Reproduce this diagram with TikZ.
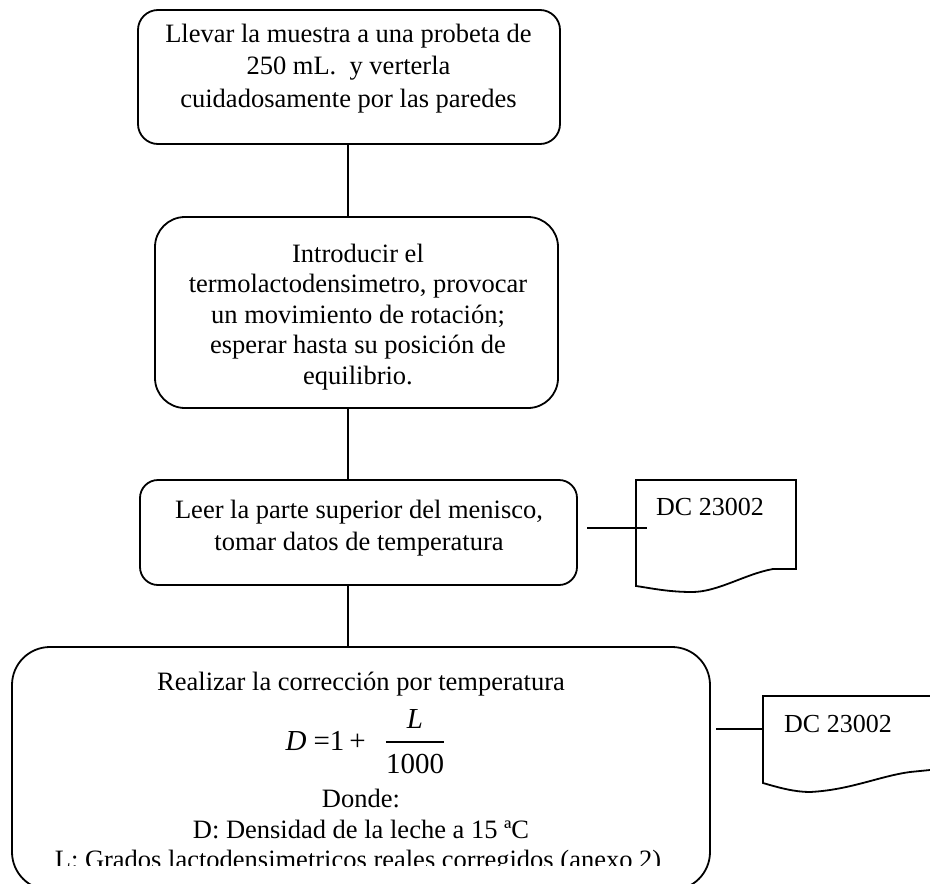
\documentclass[tikz,border=0pt]{standalone}
\usepackage{fontspec}
\setmainfont{Liberation Serif}
\tikzset{
  box/.style={draw, line width=1.8pt, rectangle, inner sep=0pt},
  ln/.style={line width=1.8pt},
  txt/.style={inner sep=0pt, anchor=base, font=\fontsize{26.5}{30.5}\selectfont},
  eq/.style={inner sep=0pt, font=\fontsize{29}{32}\selectfont},
}
\begin{document}
\begin{tikzpicture}[x=1pt, y=-1pt]
\useasboundingbox (0,0) rectangle (930,884);
\clip (0,0) rectangle (930,884);
% boxes
\node[box, rounded corners=20pt, minimum width=422pt, minimum height=134pt] (box1) at (349,77) {};
\node[box, rounded corners=30pt, minimum width=403pt, minimum height=191pt] (box2) at (356.5,312.5) {};
\node[box, rounded corners=18pt, minimum width=437pt, minimum height=105pt] (box3) at (358.5,532.5) {};
\node[box, rounded corners=38pt, minimum width=698pt, minimum height=243pt] (box4) at (361,768.5) {};
% vertical connectors
\draw[ln] (box1.south -| 348,0) -- (box2.north -| 348,0);
\draw[ln] (box2.south -| 348,0) -- (box3.north -| 348,0);
\draw[ln] (box3.south -| 348,0) -- (box4.north -| 348,0);
% texts
\node[txt, font=\fontsize{26.5}{32.5}\selectfont] (t1) at (348.5,42) {\parbox[t]{430pt}{\centering Llevar la muestra a una probeta de\\250 mL.\ \ y verterla\\cuidadosamente por las paredes}};
\node[txt] (t2) at (358,262) {\parbox[t]{430pt}{\centering Introducir el\\termolactodensimetro, provocar\\un movimiento de rotación;\\esperar hasta su posición de\\equilibrio.}};
\node[txt, font=\fontsize{26.5}{32}\selectfont] (t3) at (359,518) {\parbox[t]{430pt}{\centering Leer la parte superior del menisco,\\tomar datos de temperatura}};
\node[txt] (t4a) at (361,690) {Realizar la corrección por temperatura};
\node[eq, anchor=base east] (eqL) at (366,750) {\textit{D}\hspace{7pt}=1\hspace{5pt}+};
\node[eq, anchor=base] (eqN) at (415,728) {\textit{L}};
\node[eq, anchor=base] (eqD) at (415,773) {1000};
\draw[line width=1.6pt] (eqD.north west |- 0,742) -- (eqD.north east |- 0,742);
\node[txt] (t4b) at (361,807) {Donde:};
\node[txt] (t4c) at (361,838) {D: Densidad de la leche a 15 ªC};
\begin{scope}
\clip (0,0) rectangle (930,865);
\node[txt] (t4d) at (358,868) {L: Grados lactodensimetricos reales corregidos (anexo 2)};
\end{scope}
% documents
\draw[ln] (636,480) -- (796,480) -- (796,569) -- (773,569)
  .. controls (745,574) and (718,592) .. (692,592)
  .. controls (668,592) and (650,588) .. (636,586) -- cycle;
\node[txt, anchor=base west, font=\fontsize{26}{30}\selectfont] (doc1) at (656,515) {DC 23002};
\draw[ln] (763,696) -- (763,783)
  .. controls (780,788) and (795,792) .. (810,792)
  .. controls (850,790) and (880,776) .. (910,772) -- (950,768) -- (950,696) -- cycle;
\node[txt, anchor=base west, font=\fontsize{26}{30}\selectfont] (doc2) at (784,732) {DC 23002};
% side connectors
\coordinate (c1a) at (587,528);
\coordinate (c1b) at (647,528);
\draw[ln] (c1a) -- (c1b);
\coordinate (c2a) at (716,729);
\coordinate (c2b) at (763,729);
\draw[ln] (c2a) -- (c2b);
\end{tikzpicture}
\end{document}
